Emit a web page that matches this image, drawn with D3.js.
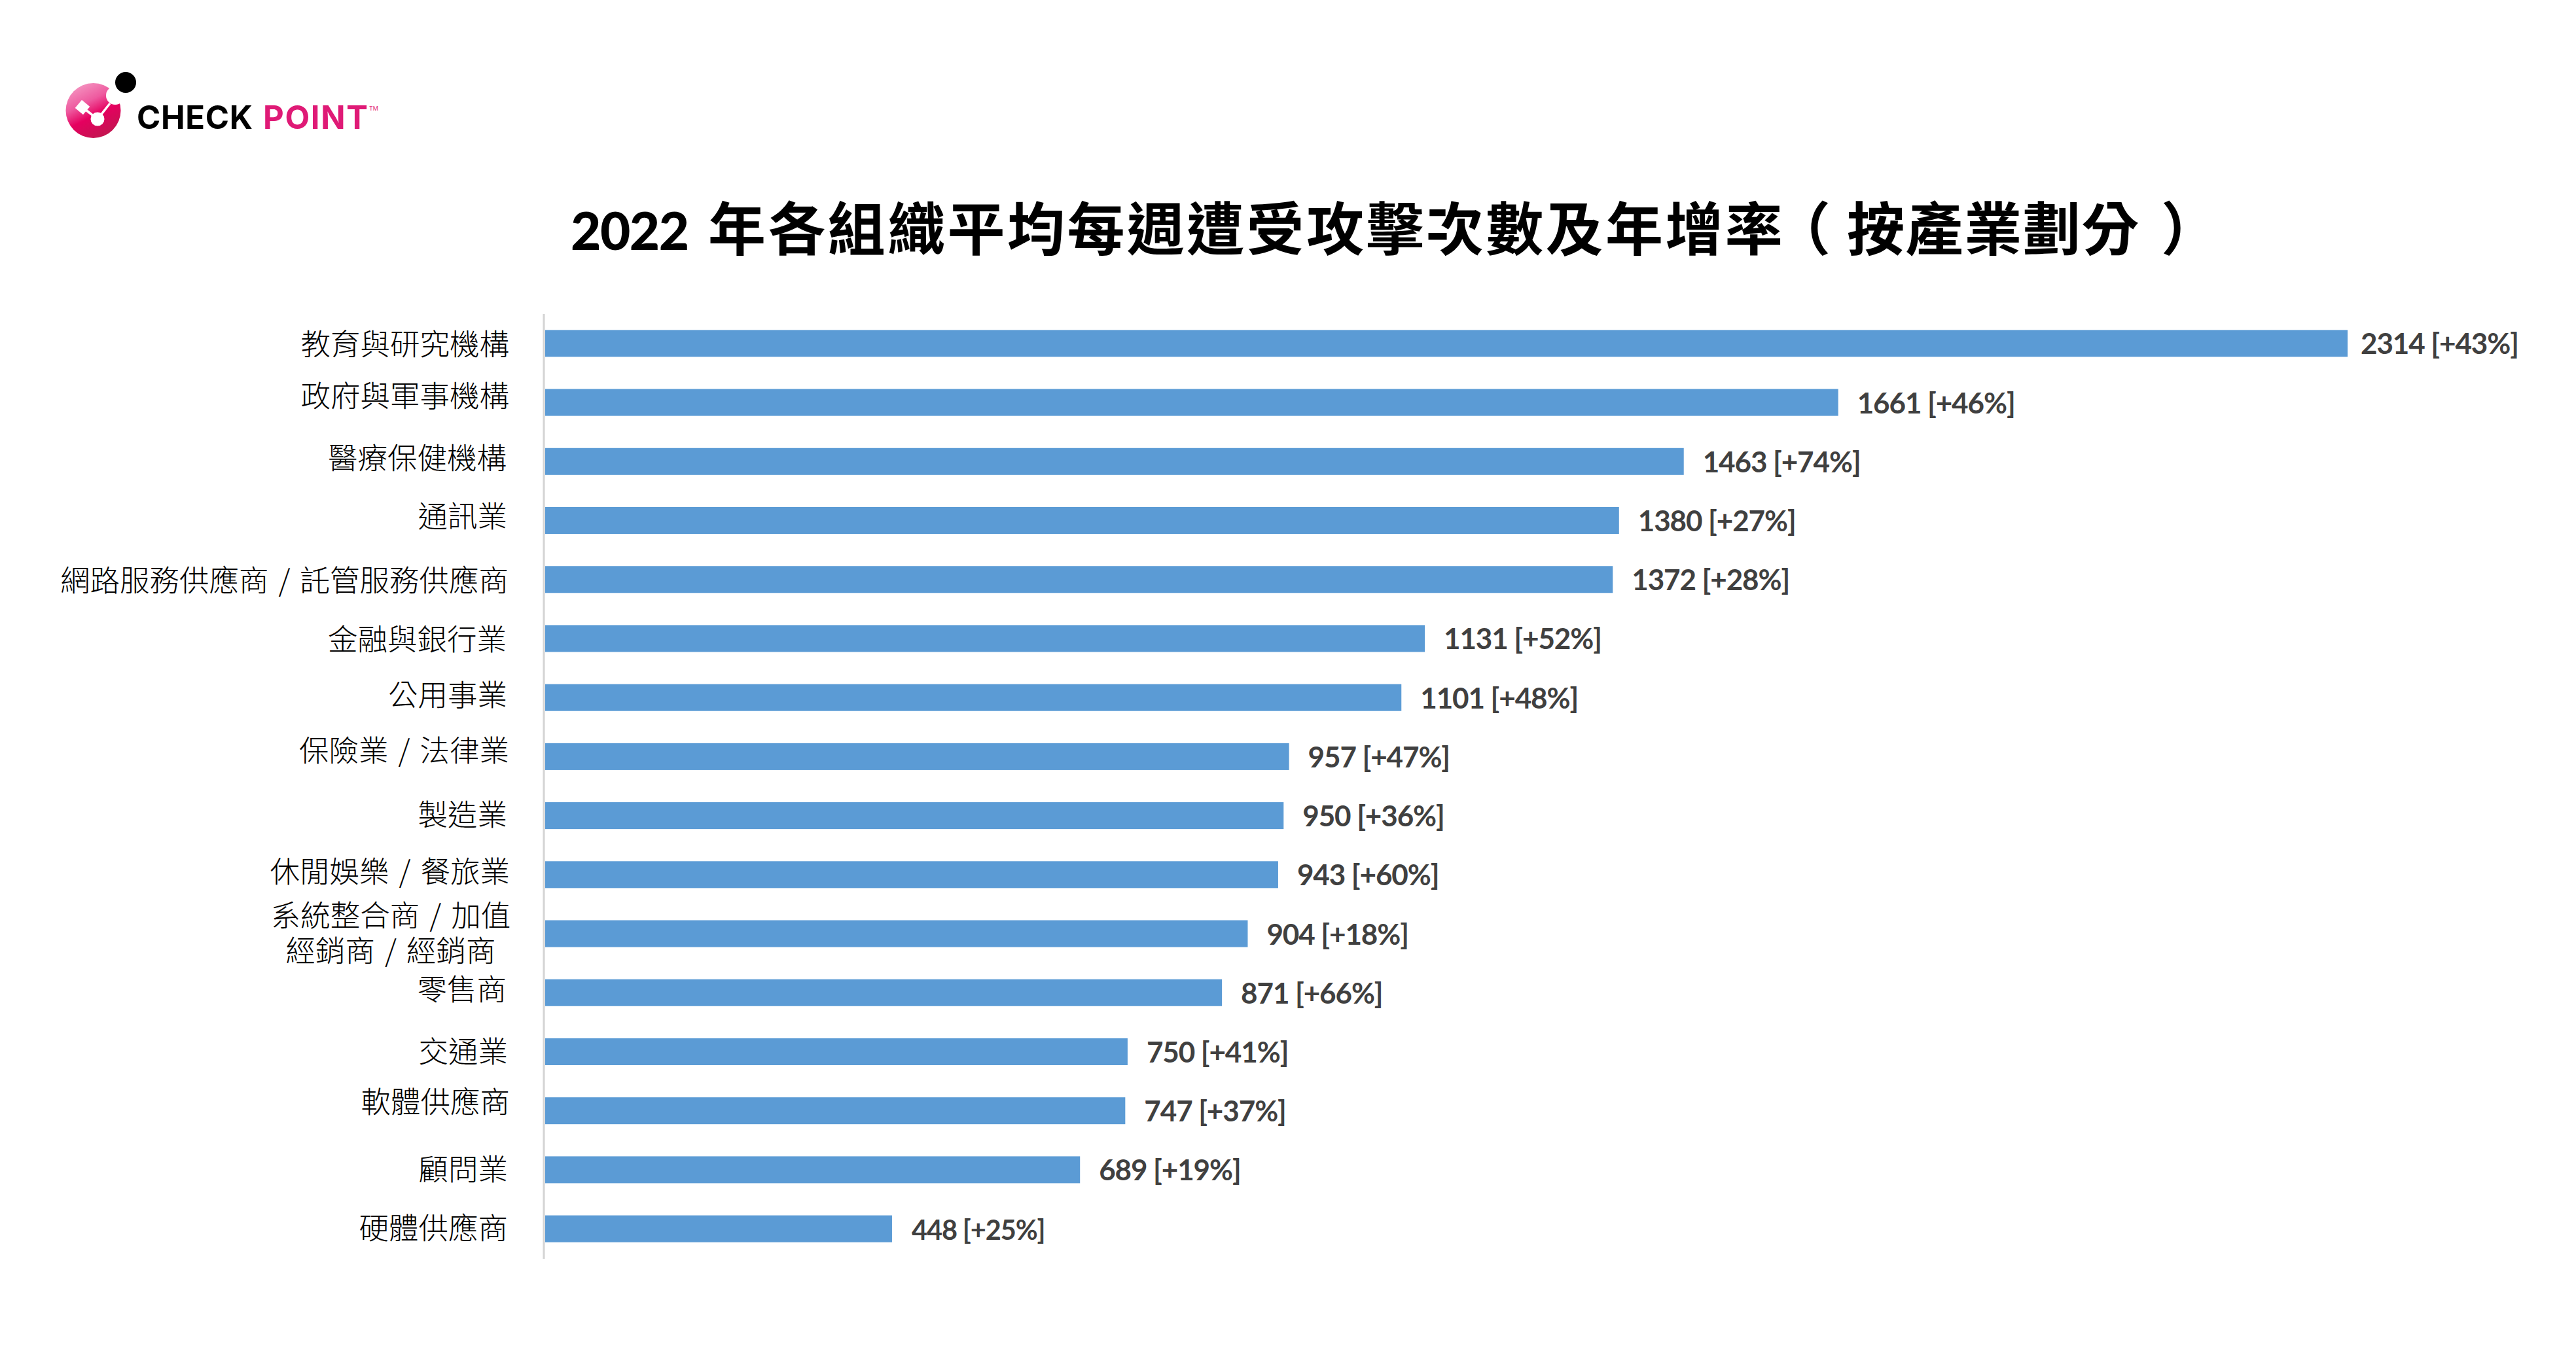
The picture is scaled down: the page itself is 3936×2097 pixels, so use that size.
<!DOCTYPE html>
<html><head><meta charset="utf-8">
<script src="https://cdn.jsdelivr.net/npm/d3@7/dist/d3.min.js"></script>
<style>html,body{margin:0;background:#fff}svg{display:block}</style></head>
<body><svg id="c" width="3936" height="2097"></svg>
<script>
const categories = ["教育與研究機構","政府與軍事機構","醫療保健機構","通訊業","網路服務供應商 / 託管服務供應商","金融與銀行業","公用事業","保險業 / 法律業","製造業","休閒娛樂 / 餐旅業","系統整合商 / 加值|經銷商 / 經銷商","零售商","交通業","軟體供應商","顧問業","硬體供應商"];
const attacks = [2314,1661,1463,1380,1372,1131,1101,957,950,943,904,871,750,747,689,448];
const growth = [43,46,74,27,28,52,48,47,36,60,18,66,41,37,19,25];
const titleYear = "2022";
const titleMain = "年各組織平均每週遭受攻擊次數及年增率";
const titleOpen = "（";
const titleInner = "按產業劃分";
const titleClose = "）";
const labelNudgeY = [2,-9,-4,-6,2,2,-3,-8,-1,-4,-1,-4,1,-13,0,0];
const labelNudgeX = [0,0,-4,-3,-1,-4,-3,0,-3,1,0,-4,-2,1,-2,-2];

const svg = d3.select("#c");
const barStart = 833, axisX = 831;
const x = d3.scaleLinear().domain([0,2314]).range([829,3587]);
const y = d3.scaleBand().domain(categories).range([480,1923]).paddingInner(0.545).paddingOuter(0.27);

// Title: one text, positioned in runs
const title = svg.append("text").attr("y",382).attr("font-family","'Noto Sans CJK TC'").attr("font-weight",700).attr("font-size",88).attr("fill","#000");
title.append("tspan").attr("x",872).attr("font-family","Lato").attr("font-weight",900).attr("font-size",80).attr("letter-spacing",-1.5).text(titleYear);
title.append("tspan").attr("x",1082).attr("letter-spacing",3.4).text(titleMain);
title.append("tspan").attr("x",2709).text(titleOpen);
title.append("tspan").attr("x",2822).attr("letter-spacing",1.6).text(titleInner);
title.append("tspan").attr("x",3302).text(titleClose);

// Axis line
svg.append("line").attr("x1",axisX).attr("x2",axisX).attr("y1",480).attr("y2",1924).attr("stroke","#d4d4d4").attr("stroke-width",3);

// Bars
svg.append("g").selectAll("rect").data(categories).join("rect")
  .attr("x",barStart).attr("y",d=>y(d)).attr("width",(d,i)=>x(attacks[i])-barStart).attr("height",y.bandwidth())
  .attr("fill","#5b9bd5");

// Values
svg.append("g").selectAll("text").data(categories).join("text")
  .attr("x",(d,i)=>x(attacks[i])+(i===0?20:i===categories.length-1?30:29)).attr("y",d=>y(d)+y.bandwidth()/2+16.5)
  .attr("font-family","Lato").attr("font-weight",700).attr("font-size",(d,i)=>i===categories.length-1?41.5:44).attr("fill","#404040")
  .attr("letter-spacing",-1.1)
  .text((d,i)=>`${attacks[i]} [+${growth[i]}%]`);

// Category labels
categories.forEach((c,i)=>{
  const cy = y(c)+y.bandwidth()/2+labelNudgeY[i];
  const lines = c.split("|");
  const t = svg.append("text").attr("font-family","'Noto Sans CJK TC'").attr("font-weight",300).attr("font-size",45.5).attr("word-spacing",5).attr("fill","#000");
  if(lines.length===1){
    t.attr("x",778+labelNudgeX[i]).attr("y",cy+16).attr("text-anchor","end").text(c);
  } else {
    t.attr("text-anchor","middle").attr("y",cy+16-26);
    lines.forEach((l,k)=>t.append("tspan").attr("x",597).attr("dy",k===0?0:54).text(l));
  }
});

// Logo
const defs = svg.append("defs");
const g1 = defs.append("linearGradient").attr("id","pk").attr("x1",0.2).attr("y1",0).attr("x2",0.7).attr("y2",1);
[[0,"#f59ac4"],[0.35,"#ee5a9f"],[0.6,"#e5005f"],[1,"#c0174f"]].forEach(s=>g1.append("stop").attr("offset",s[0]).attr("stop-color",s[1]));
const logo = svg.append("g");
logo.append("circle").attr("cx",142.5).attr("cy",169).attr("r",42).attr("fill","url(#pk)");
logo.append("circle").attr("cx",176).attr("cy",146).attr("r",14).attr("fill","#fff");
logo.append("circle").attr("cx",192).attr("cy",126).attr("r",16).attr("fill","#000");
logo.append("path").attr("d","M126 164L149 182L168 158").attr("fill","none").attr("stroke","#fff").attr("stroke-width",3.5);
logo.append("rect").attr("x",-8).attr("y",-8).attr("width",16).attr("height",16).attr("fill","#fff").attr("transform","translate(126,164) rotate(40)");
logo.append("circle").attr("cx",149).attr("cy",182).attr("r",10.5).attr("fill","#fff");
logo.append("text").attr("x",209).attr("y",197).attr("font-family","Inter").attr("font-weight",700).attr("font-size",49).attr("fill","#000").attr("textLength",177).text("CHECK");
logo.append("text").attr("x",402).attr("y",197).attr("font-family","Inter").attr("font-weight",700).attr("font-size",49).attr("fill","#df1a76").attr("textLength",160).text("POINT");
logo.append("text").attr("x",564).attr("y",169).attr("font-family","Inter").attr("font-size",9).attr("fill","#df1a76").text("TM");
</script></body></html>
